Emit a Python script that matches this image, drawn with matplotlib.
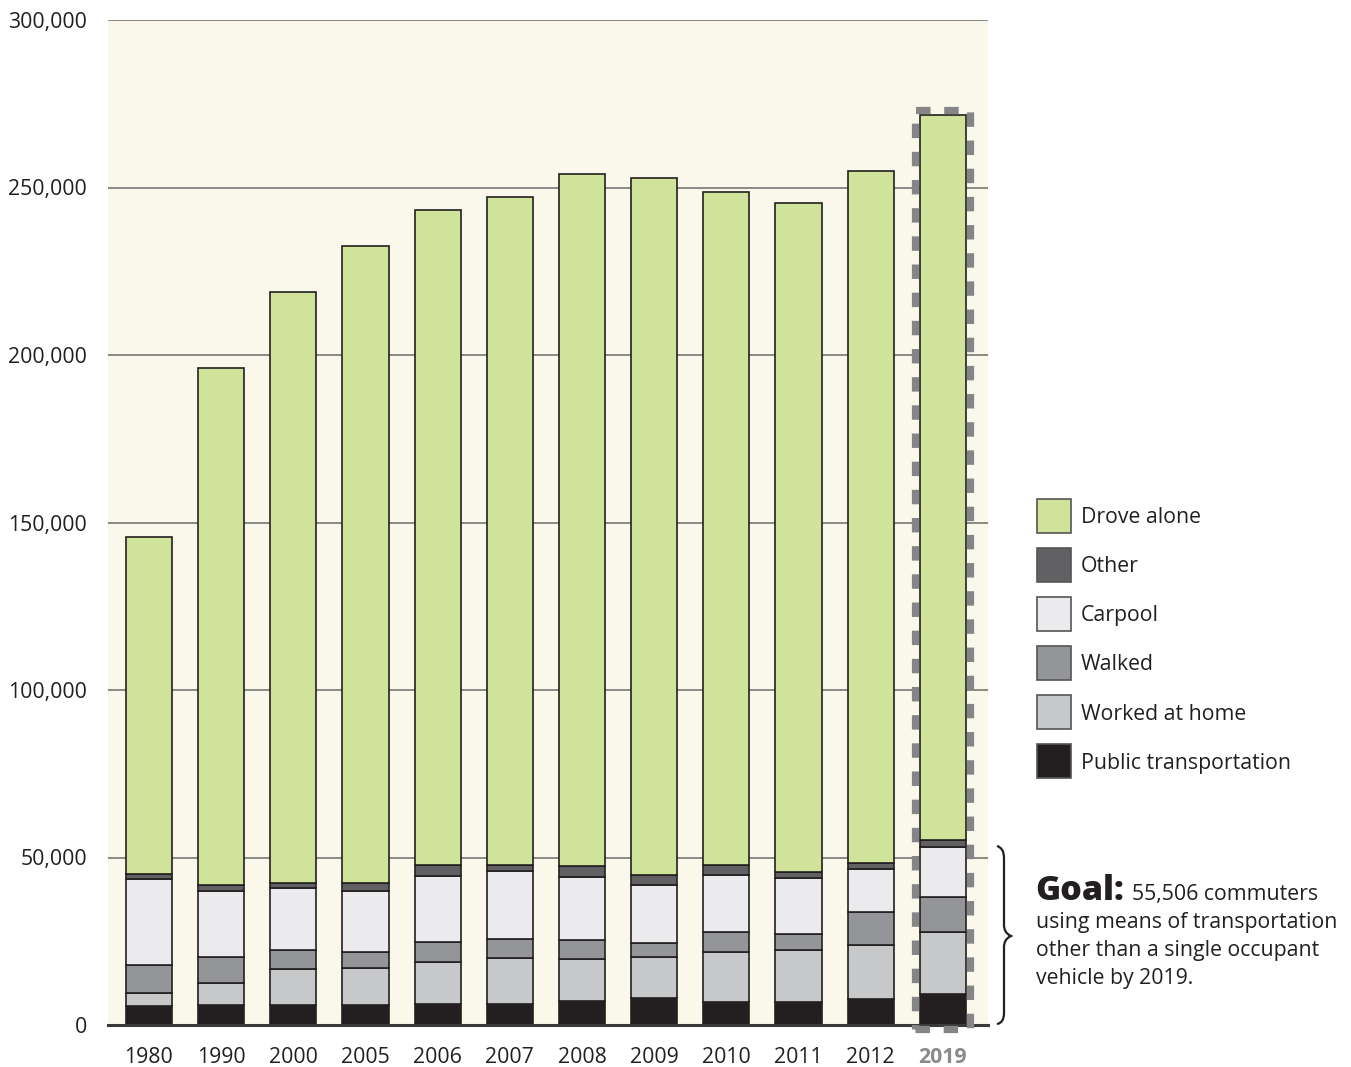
import numpy as np
import matplotlib.pyplot as plt
from matplotlib.patches import Rectangle, PathPatch
from matplotlib.path import Path

plt.rcParams['font.family'] = ['Open Sans', 'DejaVu Sans']

years = ["1980", "1990", "2000", "2005", "2006", "2007", "2008", "2009",
         "2010", "2011", "2012", "2019"]

# values in commuters, bottom to top
public = [5800, 6000, 6000, 6000, 6300, 6300, 7100, 8100, 6800, 6800, 7700, 9300]
home = [3800, 6400, 10600, 10900, 12500, 13700, 12600, 12300, 15100, 15700, 16100, 18500]
walked = [8200, 7800, 5700, 5000, 5900, 5600, 5700, 4100, 5900, 4800, 10000, 10400]
carpool = [25700, 19800, 18600, 18100, 19800, 20400, 18900, 17200, 16900, 16500, 12800, 14800]
other = [1500, 1700, 1600, 2300, 3200, 1700, 3100, 3000, 3000, 2000, 1900, 2200]
total = [145700, 196100, 218800, 232500, 243300, 247200, 254000, 252800,
         248700, 245400, 254900, 271600]

series = [
    ("Public transportation", public, "#231F20"),
    ("Worked at home", home, "#C7C8CA"),
    ("Walked", walked, "#939598"),
    ("Carpool", carpool, "#EBEBEE"),
    ("Other", other, "#616163"),
]
drove = [t - sum(s[1][i] for s in series) for i, t in enumerate(total)]
series.append(("Drove alone", drove, "#D0E39B"))

W, H = 1351, 1067
fig = plt.figure(figsize=(W / 100, H / 100), dpi=100)
ax = fig.add_axes([108 / W, 1 - 1025 / H, 880 / W, 1005 / H])
ax.set_facecolor("#FAF8EA")

x = np.arange(len(years))
bottom = np.zeros(len(years))
for name, vals, col in series:
    ax.bar(x, vals, width=0.64, bottom=bottom, color=col,
           edgecolor="#231F20", linewidth=1.2, zorder=3)
    bottom += np.array(vals)

ax.set_xlim(-0.568, 11.625)
ax.set_ylim(0, 300000)
yt = np.arange(0, 300001, 50000)
ax.set_yticks(yt)
ax.set_yticklabels([f"{v:,}" for v in yt], fontsize=15.3, color="#231F20")
for v in yt[1:]:
    ax.axhline(v, color="#8C8A85", linewidth=1.4, zorder=1)
ax.axhline(0, color="#3A3A3A", linewidth=2.2, zorder=4, clip_on=False)
ax.set_xticks(x)
ax.set_xticklabels(years, fontsize=15.3, color="#231F20")
ax.get_xticklabels()[-1].set_fontweight("bold")
ax.get_xticklabels()[-1].set_color("#8A8A8C")
ax.tick_params(length=0)
ax.tick_params(axis="y", pad=15)
ax.tick_params(axis="x", pad=16)
for s in ax.spines.values():
    s.set_visible(False)

# dashed highlight box around 2019
ax.add_patch(Rectangle((10.615, -1200), 0.755, 274300, fill=False,
                       edgecolor="#858587", linewidth=5.2,
                       linestyle=(0, (2.0, 1.9)), clip_on=False, zorder=5))

# legend
def fx(px):
    return px / W

def fy(py):
    return 1 - py / H

leg = list(reversed(series))
for i, (name, vals, col) in enumerate(leg):
    cy = 516 + 49 * i
    fig.patches.append(Rectangle((fx(1037), fy(cy + 17)), 34 / W, 34 / H,
                                 transform=fig.transFigure, facecolor=col,
                                 edgecolor="#555555", linewidth=1.2))
    fig.text(fx(1081), fy(cy + 2), name, fontsize=15.3, color="#231F20",
             va="center")

# brace
pts = [(997, 846), (1004, 848), (1004, 858),
       (1004, 925),
       (1004, 933), (1011, 936),
       (1004, 939), (1004, 947),
       (1004, 1013),
       (1004, 1023), (997, 1024)]
codes = [Path.MOVETO, Path.CURVE3, Path.CURVE3, Path.LINETO,
         Path.CURVE3, Path.CURVE3, Path.CURVE3, Path.CURVE3,
         Path.LINETO, Path.CURVE3, Path.CURVE3]
verts = [(fx(a), fy(b)) for a, b in pts]
fig.patches.append(PathPatch(Path(verts, codes), transform=fig.transFigure,
                             fill=False, edgecolor="#231F20", linewidth=1.6))

fig.text(fx(1035), fy(900), "Goal:", fontsize=24.5, fontweight="heavy",
         color="#231F20", va="baseline")
fig.text(fx(1132), fy(900), "55,506 commuters", fontsize=15.3, color="#231F20",
         va="baseline")
for j, line in enumerate(["using means of transportation",
                          "other than a single occupant",
                          "vehicle by 2019."]):
    fig.text(fx(1036), fy(928 + 28 * j), line, fontsize=15.3, color="#231F20",
             va="baseline")

fig.savefig("out.png", dpi=100, facecolor="white")
